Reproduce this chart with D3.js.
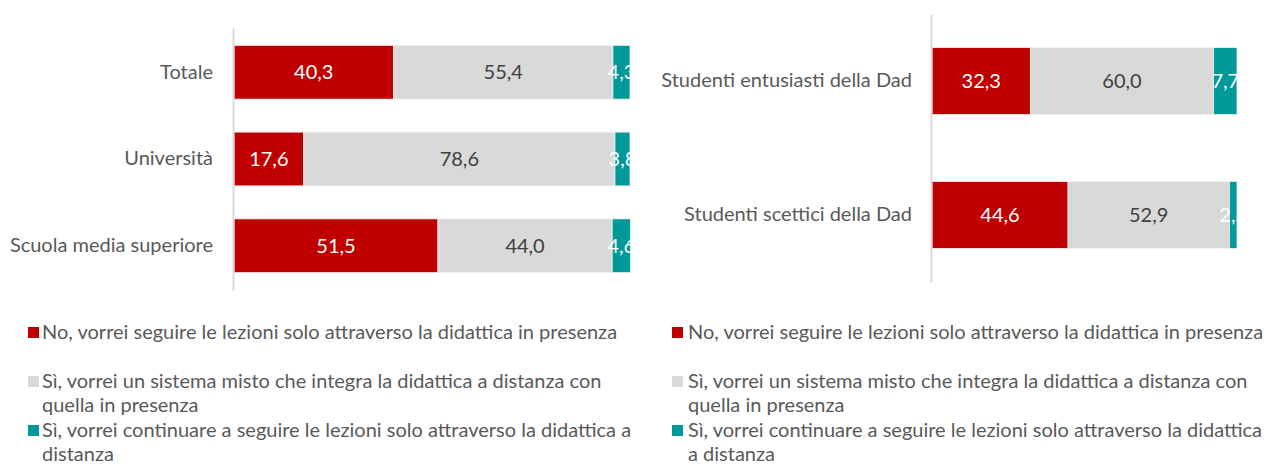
<!DOCTYPE html>
<html>
<head>
<meta charset="utf-8">
<script src="https://cdn.jsdelivr.net/npm/d3@7"></script>
<style>
  html, body { margin: 0; padding: 0; background: #ffffff; }
  svg { display: block; font-family: Lato, "Open Sans", sans-serif; }
</style>
</head>
<body>
<svg id="chart" width="1266" height="466"></svg>
<script>
// Series labels (shared by both panels)
const seriesNames = [
  "No, vorrei seguire le lezioni solo attraverso la didattica in presenza",
  "Sì, vorrei un sistema misto che integra la didattica a distanza con quella in presenza",
  "Sì, vorrei continuare a seguire le lezioni solo attraverso la didattica a distanza"
];
const seriesColors = ["#C00000", "#D9D9D9", "#009999"];
const labelColors = ["#ffffff", "#404040", "#ffffff"];

// Left panel: by school level
const catsA = ["Totale", "Università", "Scuola media superiore"];
const noA   = [40.3, 17.6, 51.5];
const mixA  = [55.4, 78.6, 44.0];
const dadA  = [4.3, 3.8, 4.6];

// Right panel: by attitude toward distance learning
const catsB = ["Studenti entusiasti della Dad", "Studenti scettici della Dad"];
const noB   = [32.3, 44.6];
const mixB  = [60.0, 52.9];
const dadB  = [7.7, 2.5];

const FONT = 20;
const svg = d3.select("#chart");
const fmt = v => d3.format(".1f")(v).replace(".", ",");

function panel(cfg) {
  const { id, cats, series, x0, x1, y0, y1, padIn, padOut, labelRight } = cfg;
  const g = svg.append("g");

  const x = d3.scaleLinear().domain([0, 100]).range([x0, x1]);
  const y = d3.scaleBand().domain(cats).range([y0, y1])
    .paddingInner(padIn).paddingOuter(padOut);

  const rows = cats.map((c, i) => {
    let acc = 0;
    return series.map((s, k) => {
      const seg = { cat: c, k, v: s[i], start: acc };
      acc += s[i];
      return seg;
    });
  });

  svg.append("clipPath").attr("id", "clip-" + id)
    .append("rect")
    .attr("x", x0).attr("y", y0)
    .attr("width", x1 - x0 + 1).attr("height", y1 - y0);

  const plot = g.append("g").attr("clip-path", `url(#clip-${id})`);

  const segs = plot.selectAll("g.row").data(rows).join("g").attr("class", "row")
    .selectAll("g.seg").data(d => d).join("g").attr("class", "seg");

  segs.append("rect")
    .attr("x", d => x(d.start))
    .attr("y", d => y(d.cat))
    .attr("width", d => x(d.start + d.v) - x(d.start))
    .attr("height", y.bandwidth())
    .attr("fill", d => seriesColors[d.k])
    .attr("stroke", "#f2f2f2")
    .attr("stroke-width", 0.8);

  segs.append("text")
    .attr("x", d => (x(d.start) + x(d.start + d.v)) / 2)
    .attr("y", d => y(d.cat) + y.bandwidth() / 2)
    .attr("dy", "0.35em")
    .attr("text-anchor", "middle")
    .attr("font-size", FONT)
    .attr("fill", d => labelColors[d.k])
    .text(d => fmt(d.v));

  // Category axis line
  const axis = d3.axisLeft(y).tickSize(0).tickPadding(x0 - labelRight);
  const ag = g.append("g").attr("transform", `translate(${x0 - 1},0)`).call(axis);
  ag.select(".domain").attr("stroke", "#D9D9D9").attr("stroke-width", 2);
  ag.selectAll(".tick text")
    .attr("font-size", FONT)
    .attr("fill", "#595959")
    .attr("font-family", "Lato, 'Open Sans', sans-serif");
}

panel({ id: "a", cats: catsA, series: [noA, mixA, dadA],
  x0: 234, x1: 630, y0: 28, y1: 290, padIn: 0.38, padOut: 0.2, labelRight: 214 });
panel({ id: "b", cats: catsB, series: [noB, mixB, dadB],
  x0: 932, x1: 1237, y0: 14, y1: 282, padIn: 0.5, padOut: 0.25, labelRight: 913 });

// Legends with wrapped labels
function wrapWords(text, maxW, measure) {
  const words = text.split(" ");
  const lines = [];
  let line = "";
  words.forEach(w => {
    const test = line ? line + " " + w : w;
    if (line && measure(test) > maxW) { lines.push(line); line = w; }
    else line = test;
  });
  if (line) lines.push(line);
  return lines;
}

function legend(xSq, xText, maxW) {
  const g = svg.append("g");
  const probe = g.append("text").attr("font-size", FONT).attr("visibility", "hidden");
  const measure = s => { probe.text(s); return probe.node().getComputedTextLength(); };
  const ys = [339, 388, 437];
  seriesNames.forEach((name, k) => {
    g.append("rect")
      .attr("x", xSq).attr("y", ys[k] - 12)
      .attr("width", 11).attr("height", 11)
      .attr("fill", seriesColors[k]);
    const lines = wrapWords(name, maxW, measure);
    const t = g.append("text")
      .attr("x", xText).attr("y", ys[k])
      .attr("font-size", FONT).attr("fill", "#595959");
    lines.forEach((ln, i) => {
      t.append("tspan").attr("x", xText).attr("dy", i === 0 ? 0 : 24).text(ln);
    });
  });
  probe.remove();
}

legend(28, 42, 600);
legend(672, 688, 585);
</script>
</body>
</html>
